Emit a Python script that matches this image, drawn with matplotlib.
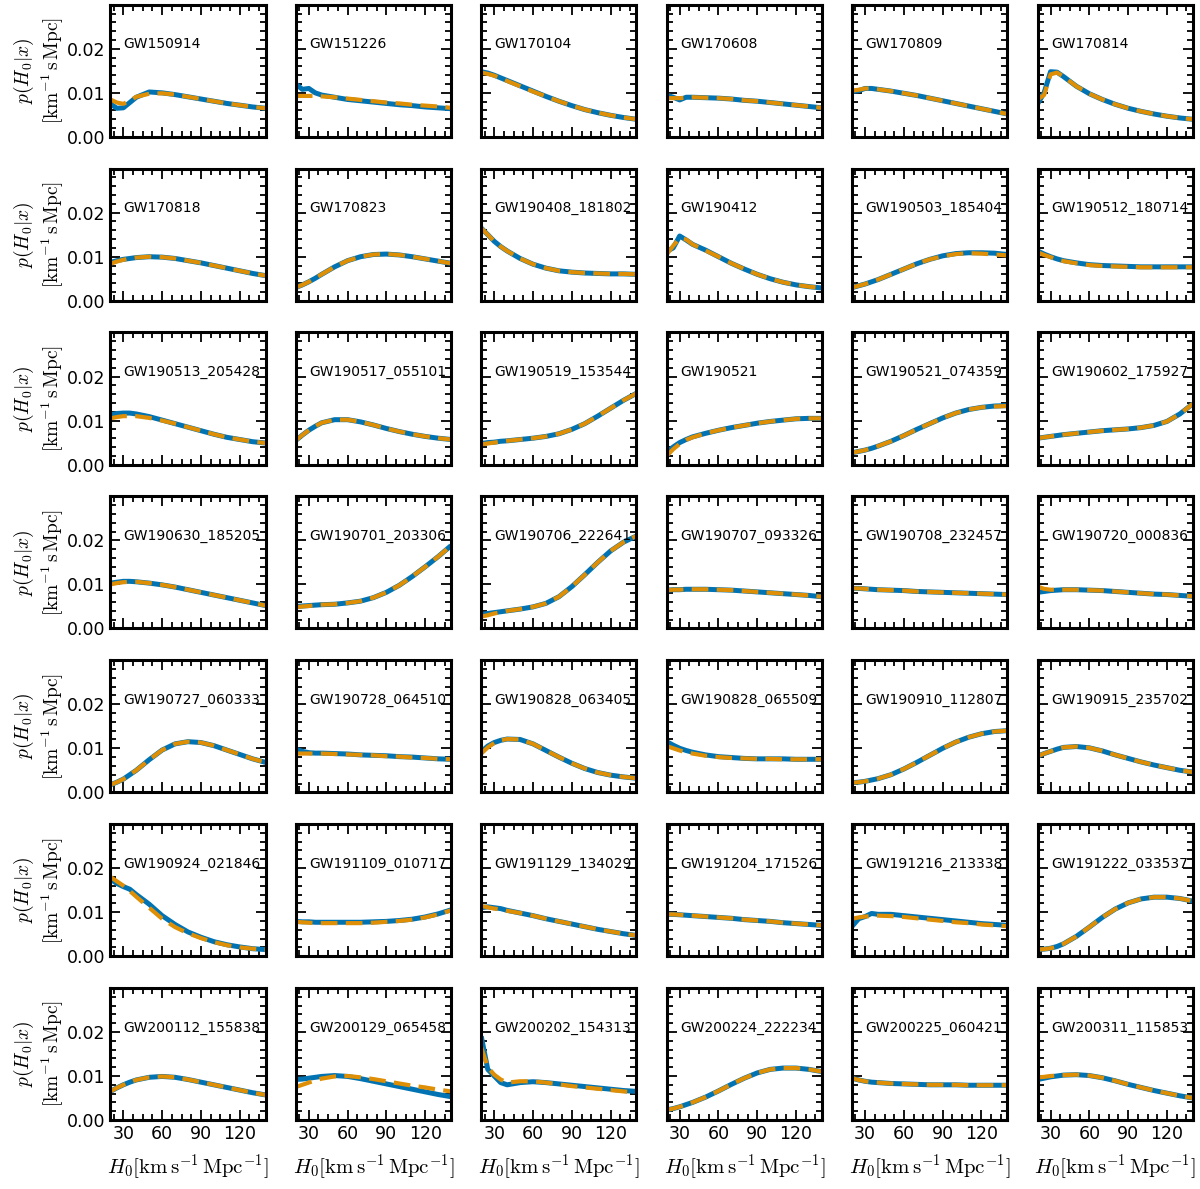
import matplotlib
matplotlib.use("Agg")
import matplotlib.pyplot as plt
from matplotlib.ticker import MultipleLocator

events = [
    "GW150914", "GW151226", "GW170104", "GW170608", "GW170809", "GW170814",
    "GW170818", "GW170823", "GW190408_181802", "GW190412", "GW190503_185404", "GW190512_180714",
    "GW190513_205428", "GW190517_055101", "GW190519_153544", "GW190521", "GW190521_074359", "GW190602_175927",
    "GW190630_185205", "GW190701_203306", "GW190706_222641", "GW190707_093326", "GW190708_232457", "GW190720_000836",
    "GW190727_060333", "GW190728_064510", "GW190828_063405", "GW190828_065509", "GW190910_112807", "GW190915_235702",
    "GW190924_021846", "GW191109_010717", "GW191129_134029", "GW191204_171526", "GW191216_213338", "GW191222_033537",
    "GW200112_155838", "GW200129_065458", "GW200202_154313", "GW200224_222234", "GW200225_060421", "GW200311_115853",
]

h0 = [20, 25, 30, 35, 40, 50, 60, 70, 80, 90, 100, 110, 120, 130, 140]

# solid blue curves
blue = [
    [0.0075, 0.0065, 0.0066, 0.0078, 0.0090, 0.0102, 0.0100, 0.0096, 0.0091, 0.0086, 0.0081, 0.0076, 0.0072, 0.0068, 0.0065],
    [0.0120, 0.0108, 0.0110, 0.0100, 0.0095, 0.0090, 0.0085, 0.0082, 0.0079, 0.0076, 0.0073, 0.0071, 0.0068, 0.0066, 0.0064],
    [0.0148, 0.0145, 0.0140, 0.0134, 0.0128, 0.0116, 0.0104, 0.0092, 0.0081, 0.0071, 0.0062, 0.0055, 0.0049, 0.0044, 0.0040],
    [0.0095, 0.0090, 0.0084, 0.0090, 0.0090, 0.0089, 0.0088, 0.0086, 0.0083, 0.0081, 0.0078, 0.0075, 0.0072, 0.0069, 0.0066],
    [0.0103, 0.0105, 0.0110, 0.0110, 0.0108, 0.0104, 0.0099, 0.0094, 0.0088, 0.0082, 0.0076, 0.0070, 0.0064, 0.0058, 0.0052],
    [0.0075, 0.0100, 0.0148, 0.0147, 0.0137, 0.0115, 0.0098, 0.0085, 0.0074, 0.0065, 0.0058, 0.0052, 0.0047, 0.0043, 0.0040],
    [0.0087, 0.0091, 0.0094, 0.0096, 0.0098, 0.0100, 0.0099, 0.0096, 0.0091, 0.0086, 0.0080, 0.0074, 0.0068, 0.0062, 0.0057],
    [0.0030, 0.0036, 0.0043, 0.0051, 0.0060, 0.0077, 0.0091, 0.0100, 0.0105, 0.0106, 0.0104, 0.0100, 0.0095, 0.0090, 0.0085],
    [0.0165, 0.0150, 0.0135, 0.0123, 0.0113, 0.0096, 0.0083, 0.0074, 0.0068, 0.0065, 0.0063, 0.0062, 0.0061, 0.0061, 0.0060],
    [0.0112, 0.0120, 0.0147, 0.0138, 0.0128, 0.0115, 0.0100, 0.0085, 0.0072, 0.0060, 0.0050, 0.0042, 0.0036, 0.0032, 0.0029],
    [0.0030, 0.0034, 0.0038, 0.0043, 0.0048, 0.0060, 0.0072, 0.0084, 0.0094, 0.0102, 0.0107, 0.0109, 0.0109, 0.0108, 0.0105],
    [0.0113, 0.0106, 0.0100, 0.0095, 0.0091, 0.0086, 0.0082, 0.0080, 0.0079, 0.0078, 0.0077, 0.0077, 0.0077, 0.0077, 0.0077],
    [0.0113, 0.0116, 0.0117, 0.0117, 0.0115, 0.0109, 0.0101, 0.0093, 0.0085, 0.0077, 0.0069, 0.0062, 0.0057, 0.0052, 0.0049],
    [0.0055, 0.0067, 0.0078, 0.0087, 0.0095, 0.0102, 0.0102, 0.0097, 0.0090, 0.0082, 0.0075, 0.0069, 0.0064, 0.0060, 0.0057],
    [0.0048, 0.0050, 0.0051, 0.0053, 0.0054, 0.0057, 0.0060, 0.0064, 0.0070, 0.0080, 0.0093, 0.0110, 0.0128, 0.0146, 0.0162],
    [0.0028, 0.0040, 0.0050, 0.0057, 0.0063, 0.0071, 0.0078, 0.0084, 0.0089, 0.0094, 0.0098, 0.0101, 0.0104, 0.0105, 0.0105],
    [0.0027, 0.0030, 0.0033, 0.0037, 0.0042, 0.0053, 0.0066, 0.0080, 0.0093, 0.0106, 0.0117, 0.0125, 0.0130, 0.0133, 0.0134],
    [0.0060, 0.0062, 0.0064, 0.0066, 0.0068, 0.0071, 0.0074, 0.0077, 0.0079, 0.0081, 0.0084, 0.0089, 0.0098, 0.0115, 0.0138],
    [0.0103, 0.0105, 0.0107, 0.0107, 0.0106, 0.0103, 0.0099, 0.0094, 0.0088, 0.0082, 0.0076, 0.0070, 0.0064, 0.0058, 0.0052],
    [0.0050, 0.0051, 0.0052, 0.0053, 0.0054, 0.0055, 0.0058, 0.0062, 0.0070, 0.0082, 0.0098, 0.0118, 0.0140, 0.0163, 0.0188],
    [0.0032, 0.0034, 0.0036, 0.0038, 0.0040, 0.0044, 0.0049, 0.0057, 0.0072, 0.0095, 0.0122, 0.0150, 0.0176, 0.0196, 0.0210],
    [0.0087, 0.0088, 0.0088, 0.0089, 0.0089, 0.0089, 0.0088, 0.0087, 0.0085, 0.0083, 0.0081, 0.0079, 0.0077, 0.0075, 0.0072],
    [0.0091, 0.0091, 0.0090, 0.0089, 0.0088, 0.0087, 0.0086, 0.0084, 0.0083, 0.0082, 0.0081, 0.0080, 0.0079, 0.0078, 0.0077],
    [0.0082, 0.0084, 0.0086, 0.0087, 0.0088, 0.0088, 0.0087, 0.0086, 0.0084, 0.0082, 0.0080, 0.0078, 0.0077, 0.0075, 0.0073],
    [0.0017, 0.0023, 0.0030, 0.0040, 0.0050, 0.0074, 0.0096, 0.0110, 0.0115, 0.0113, 0.0106, 0.0096, 0.0086, 0.0076, 0.0068],
    [0.0098, 0.0093, 0.0090, 0.0089, 0.0089, 0.0088, 0.0087, 0.0085, 0.0084, 0.0083, 0.0081, 0.0080, 0.0078, 0.0076, 0.0075],
    [0.0092, 0.0105, 0.0113, 0.0118, 0.0121, 0.0120, 0.0110, 0.0095, 0.0080, 0.0066, 0.0054, 0.0045, 0.0039, 0.0035, 0.0032],
    [0.0115, 0.0107, 0.0100, 0.0095, 0.0091, 0.0085, 0.0081, 0.0079, 0.0077, 0.0076, 0.0076, 0.0076, 0.0075, 0.0075, 0.0075],
    [0.0022, 0.0023, 0.0025, 0.0028, 0.0031, 0.0040, 0.0053, 0.0068, 0.0084, 0.0100, 0.0114, 0.0125, 0.0133, 0.0138, 0.0140],
    [0.0082, 0.0088, 0.0093, 0.0098, 0.0102, 0.0104, 0.0101, 0.0094, 0.0085, 0.0077, 0.0069, 0.0062, 0.0056, 0.0050, 0.0046],
    [0.0175, 0.0165, 0.0158, 0.0152, 0.0140, 0.0118, 0.0092, 0.0072, 0.0055, 0.0043, 0.0033, 0.0026, 0.0021, 0.0017, 0.0015],
    [0.0079, 0.0078, 0.0078, 0.0077, 0.0077, 0.0077, 0.0077, 0.0077, 0.0078, 0.0079, 0.0081, 0.0084, 0.0089, 0.0096, 0.0105],
    [0.0110, 0.0112, 0.0110, 0.0108, 0.0104, 0.0098, 0.0092, 0.0085, 0.0079, 0.0073, 0.0067, 0.0061, 0.0056, 0.0051, 0.0047],
    [0.0095, 0.0095, 0.0094, 0.0093, 0.0092, 0.0090, 0.0088, 0.0086, 0.0083, 0.0081, 0.0079, 0.0076, 0.0074, 0.0072, 0.0070],
    [0.0068, 0.0085, 0.0090, 0.0097, 0.0095, 0.0095, 0.0092, 0.0089, 0.0086, 0.0083, 0.0080, 0.0077, 0.0074, 0.0072, 0.0070],
    [0.0015, 0.0016, 0.0018, 0.0022, 0.0028, 0.0045, 0.0066, 0.0088, 0.0107, 0.0121, 0.0130, 0.0134, 0.0134, 0.0131, 0.0125],
    [0.0065, 0.0073, 0.0080, 0.0086, 0.0091, 0.0097, 0.0099, 0.0097, 0.0092, 0.0086, 0.0080, 0.0074, 0.0068, 0.0062, 0.0057],
    [0.0092, 0.0093, 0.0095, 0.0097, 0.0099, 0.0101, 0.0099, 0.0094, 0.0088, 0.0082, 0.0076, 0.0070, 0.0064, 0.0058, 0.0053],
    [0.0190, 0.0115, 0.0100, 0.0085, 0.0080, 0.0085, 0.0087, 0.0085, 0.0082, 0.0079, 0.0076, 0.0073, 0.0070, 0.0067, 0.0065],
    [0.0023, 0.0026, 0.0030, 0.0035, 0.0040, 0.0052, 0.0066, 0.0081, 0.0095, 0.0107, 0.0115, 0.0118, 0.0118, 0.0115, 0.0110],
    [0.0095, 0.0091, 0.0088, 0.0086, 0.0085, 0.0083, 0.0082, 0.0081, 0.0080, 0.0080, 0.0080, 0.0079, 0.0079, 0.0079, 0.0079],
    [0.0092, 0.0095, 0.0098, 0.0100, 0.0102, 0.0103, 0.0101, 0.0096, 0.0089, 0.0081, 0.0074, 0.0067, 0.0061, 0.0055, 0.0050],
]

# dashed orange curves
orange = [
    [0.0085, 0.0078, 0.0075, 0.0082, 0.0091, 0.0098, 0.0099, 0.0096, 0.0091, 0.0086, 0.0081, 0.0076, 0.0072, 0.0068, 0.0065],
    [0.0093, 0.0093, 0.0093, 0.0093, 0.0092, 0.0090, 0.0087, 0.0084, 0.0081, 0.0078, 0.0076, 0.0073, 0.0071, 0.0069, 0.0066],
    [0.0146, 0.0143, 0.0139, 0.0133, 0.0127, 0.0115, 0.0103, 0.0092, 0.0081, 0.0071, 0.0062, 0.0055, 0.0049, 0.0044, 0.0040],
    [0.0088, 0.0088, 0.0088, 0.0089, 0.0090, 0.0089, 0.0088, 0.0086, 0.0083, 0.0081, 0.0078, 0.0075, 0.0072, 0.0069, 0.0066],
    [0.0105, 0.0107, 0.0110, 0.0110, 0.0108, 0.0104, 0.0099, 0.0094, 0.0088, 0.0082, 0.0076, 0.0070, 0.0064, 0.0058, 0.0052],
    [0.0085, 0.0095, 0.0142, 0.0146, 0.0137, 0.0115, 0.0098, 0.0085, 0.0074, 0.0065, 0.0058, 0.0052, 0.0047, 0.0043, 0.0040],
    [0.0084, 0.0089, 0.0093, 0.0096, 0.0098, 0.0100, 0.0099, 0.0096, 0.0091, 0.0086, 0.0080, 0.0074, 0.0068, 0.0062, 0.0057],
    [0.0030, 0.0036, 0.0043, 0.0051, 0.0060, 0.0077, 0.0091, 0.0100, 0.0105, 0.0106, 0.0104, 0.0100, 0.0095, 0.0090, 0.0085],
    [0.0165, 0.0150, 0.0135, 0.0123, 0.0113, 0.0096, 0.0083, 0.0074, 0.0068, 0.0065, 0.0063, 0.0062, 0.0061, 0.0061, 0.0060],
    [0.0105, 0.0125, 0.0142, 0.0139, 0.0128, 0.0114, 0.0100, 0.0085, 0.0072, 0.0060, 0.0050, 0.0042, 0.0036, 0.0032, 0.0029],
    [0.0030, 0.0034, 0.0038, 0.0043, 0.0048, 0.0060, 0.0072, 0.0084, 0.0094, 0.0101, 0.0106, 0.0108, 0.0107, 0.0105, 0.0103],
    [0.0110, 0.0104, 0.0099, 0.0094, 0.0090, 0.0085, 0.0081, 0.0079, 0.0078, 0.0077, 0.0076, 0.0076, 0.0076, 0.0076, 0.0076],
    [0.0105, 0.0108, 0.0110, 0.0110, 0.0110, 0.0106, 0.0100, 0.0093, 0.0085, 0.0077, 0.0069, 0.0062, 0.0057, 0.0052, 0.0049],
    [0.0055, 0.0067, 0.0078, 0.0087, 0.0095, 0.0102, 0.0102, 0.0097, 0.0090, 0.0082, 0.0075, 0.0069, 0.0064, 0.0060, 0.0057],
    [0.0046, 0.0048, 0.0050, 0.0052, 0.0054, 0.0057, 0.0060, 0.0064, 0.0070, 0.0080, 0.0093, 0.0110, 0.0128, 0.0146, 0.0162],
    [0.0020, 0.0035, 0.0047, 0.0056, 0.0062, 0.0071, 0.0078, 0.0084, 0.0089, 0.0094, 0.0098, 0.0101, 0.0104, 0.0105, 0.0105],
    [0.0027, 0.0030, 0.0033, 0.0037, 0.0042, 0.0053, 0.0066, 0.0080, 0.0093, 0.0106, 0.0117, 0.0125, 0.0130, 0.0132, 0.0133],
    [0.0060, 0.0062, 0.0064, 0.0066, 0.0068, 0.0071, 0.0074, 0.0077, 0.0079, 0.0081, 0.0084, 0.0089, 0.0098, 0.0115, 0.0138],
    [0.0100, 0.0103, 0.0105, 0.0106, 0.0106, 0.0103, 0.0099, 0.0094, 0.0088, 0.0082, 0.0076, 0.0070, 0.0064, 0.0058, 0.0052],
    [0.0048, 0.0050, 0.0051, 0.0053, 0.0054, 0.0055, 0.0058, 0.0062, 0.0070, 0.0082, 0.0098, 0.0118, 0.0140, 0.0163, 0.0188],
    [0.0027, 0.0030, 0.0034, 0.0037, 0.0040, 0.0044, 0.0049, 0.0057, 0.0072, 0.0095, 0.0122, 0.0150, 0.0176, 0.0196, 0.0210],
    [0.0087, 0.0088, 0.0088, 0.0089, 0.0089, 0.0089, 0.0088, 0.0087, 0.0085, 0.0083, 0.0081, 0.0079, 0.0077, 0.0075, 0.0072],
    [0.0091, 0.0091, 0.0090, 0.0089, 0.0088, 0.0087, 0.0086, 0.0084, 0.0083, 0.0082, 0.0081, 0.0080, 0.0079, 0.0078, 0.0077],
    [0.0095, 0.0090, 0.0088, 0.0088, 0.0088, 0.0088, 0.0087, 0.0086, 0.0084, 0.0082, 0.0080, 0.0078, 0.0077, 0.0075, 0.0073],
    [0.0017, 0.0023, 0.0030, 0.0040, 0.0050, 0.0074, 0.0096, 0.0110, 0.0115, 0.0113, 0.0106, 0.0096, 0.0086, 0.0076, 0.0068],
    [0.0088, 0.0088, 0.0088, 0.0088, 0.0088, 0.0087, 0.0086, 0.0085, 0.0084, 0.0082, 0.0081, 0.0079, 0.0078, 0.0076, 0.0075],
    [0.0088, 0.0102, 0.0112, 0.0118, 0.0121, 0.0120, 0.0110, 0.0095, 0.0080, 0.0066, 0.0054, 0.0045, 0.0039, 0.0035, 0.0032],
    [0.0105, 0.0100, 0.0095, 0.0091, 0.0088, 0.0083, 0.0080, 0.0078, 0.0077, 0.0076, 0.0076, 0.0075, 0.0075, 0.0075, 0.0075],
    [0.0022, 0.0023, 0.0025, 0.0028, 0.0031, 0.0040, 0.0053, 0.0068, 0.0084, 0.0100, 0.0114, 0.0125, 0.0133, 0.0138, 0.0140],
    [0.0082, 0.0088, 0.0093, 0.0098, 0.0102, 0.0104, 0.0101, 0.0094, 0.0085, 0.0077, 0.0069, 0.0062, 0.0056, 0.0050, 0.0046],
    [0.0180, 0.0170, 0.0160, 0.0148, 0.0135, 0.0110, 0.0085, 0.0066, 0.0052, 0.0041, 0.0032, 0.0025, 0.0020, 0.0017, 0.0015],
    [0.0078, 0.0077, 0.0076, 0.0075, 0.0075, 0.0075, 0.0075, 0.0075, 0.0076, 0.0078, 0.0080, 0.0083, 0.0088, 0.0095, 0.0104],
    [0.0114, 0.0111, 0.0108, 0.0106, 0.0103, 0.0098, 0.0092, 0.0085, 0.0079, 0.0073, 0.0067, 0.0061, 0.0056, 0.0051, 0.0047],
    [0.0095, 0.0095, 0.0094, 0.0093, 0.0092, 0.0090, 0.0088, 0.0086, 0.0083, 0.0081, 0.0079, 0.0076, 0.0074, 0.0072, 0.0070],
    [0.0085, 0.0088, 0.0090, 0.0091, 0.0092, 0.0091, 0.0089, 0.0086, 0.0083, 0.0080, 0.0077, 0.0075, 0.0072, 0.0070, 0.0068],
    [0.0015, 0.0016, 0.0018, 0.0022, 0.0028, 0.0045, 0.0066, 0.0088, 0.0107, 0.0121, 0.0130, 0.0134, 0.0134, 0.0131, 0.0125],
    [0.0065, 0.0073, 0.0080, 0.0086, 0.0091, 0.0097, 0.0099, 0.0097, 0.0092, 0.0086, 0.0080, 0.0074, 0.0068, 0.0062, 0.0057],
    [0.0075, 0.0080, 0.0085, 0.0090, 0.0094, 0.0099, 0.0100, 0.0097, 0.0093, 0.0088, 0.0083, 0.0078, 0.0074, 0.0069, 0.0065],
    [0.0165, 0.0120, 0.0103, 0.0092, 0.0085, 0.0088, 0.0088, 0.0085, 0.0081, 0.0077, 0.0074, 0.0071, 0.0068, 0.0065, 0.0062],
    [0.0023, 0.0026, 0.0030, 0.0035, 0.0040, 0.0052, 0.0066, 0.0081, 0.0095, 0.0107, 0.0115, 0.0118, 0.0118, 0.0115, 0.0110],
    [0.0095, 0.0091, 0.0088, 0.0086, 0.0085, 0.0083, 0.0082, 0.0081, 0.0080, 0.0080, 0.0080, 0.0079, 0.0079, 0.0079, 0.0079],
    [0.0097, 0.0098, 0.0100, 0.0101, 0.0102, 0.0103, 0.0101, 0.0096, 0.0089, 0.0081, 0.0074, 0.0067, 0.0061, 0.0055, 0.0050],
]

plt.rcParams['mathtext.fontset'] = 'cm'
plt.rcParams['font.family'] = 'DejaVu Sans'

nrows, ncols = 7, 6
fig, axes = plt.subplots(nrows, ncols, figsize=(12, 11.89), dpi=100, sharex=True, sharey=True)
fig.subplots_adjust(left=0.092, right=0.994, top=0.996, bottom=0.058, wspace=0.195, hspace=0.24)

for i, name in enumerate(events):
    ax = axes[i // ncols][i % ncols]
    ax.plot(h0, blue[i], color='#0173b2', lw=3.6, solid_capstyle='butt')
    ax.plot(h0, orange[i], color='#de8f05', lw=3.0, ls='--', dashes=(4.0, 2.0))
    ax.text(0.085, 0.70, name, transform=ax.transAxes, fontsize=10, va='center', ha='left')
    ax.set_xlim(20, 140)
    ax.set_ylim(0, 0.03)
    ax.xaxis.set_major_locator(MultipleLocator(30))
    ax.xaxis.set_minor_locator(MultipleLocator(7.5))
    ax.yaxis.set_major_locator(MultipleLocator(0.01))
    ax.yaxis.set_minor_locator(MultipleLocator(0.002))
    ax.tick_params(which='both', direction='in', top=True, right=True, labelsize=12.5, width=1.3)
    ax.tick_params(which='major', length=7)
    ax.tick_params(which='minor', length=4)
    for sp in ax.spines.values():
        sp.set_linewidth(2.2)
    ax.set_yticks([0.0, 0.01, 0.02])
    ax.yaxis.set_major_formatter(matplotlib.ticker.FormatStrFormatter('%.2f'))
    if i % ncols == 0:
        ax.set_ylabel('$p(H_0|x)$\n$[\\mathrm{km}^{-1}\\,\\mathrm{s}\\,\\mathrm{Mpc}]$', fontsize=14, labelpad=1)
    if i // ncols == nrows - 1:
        ax.set_xlabel('$H_0 [\\mathrm{km\\,s^{-1}\\,Mpc^{-1}}]$', fontsize=15, labelpad=7)

plt.savefig('out.png', dpi=100)
